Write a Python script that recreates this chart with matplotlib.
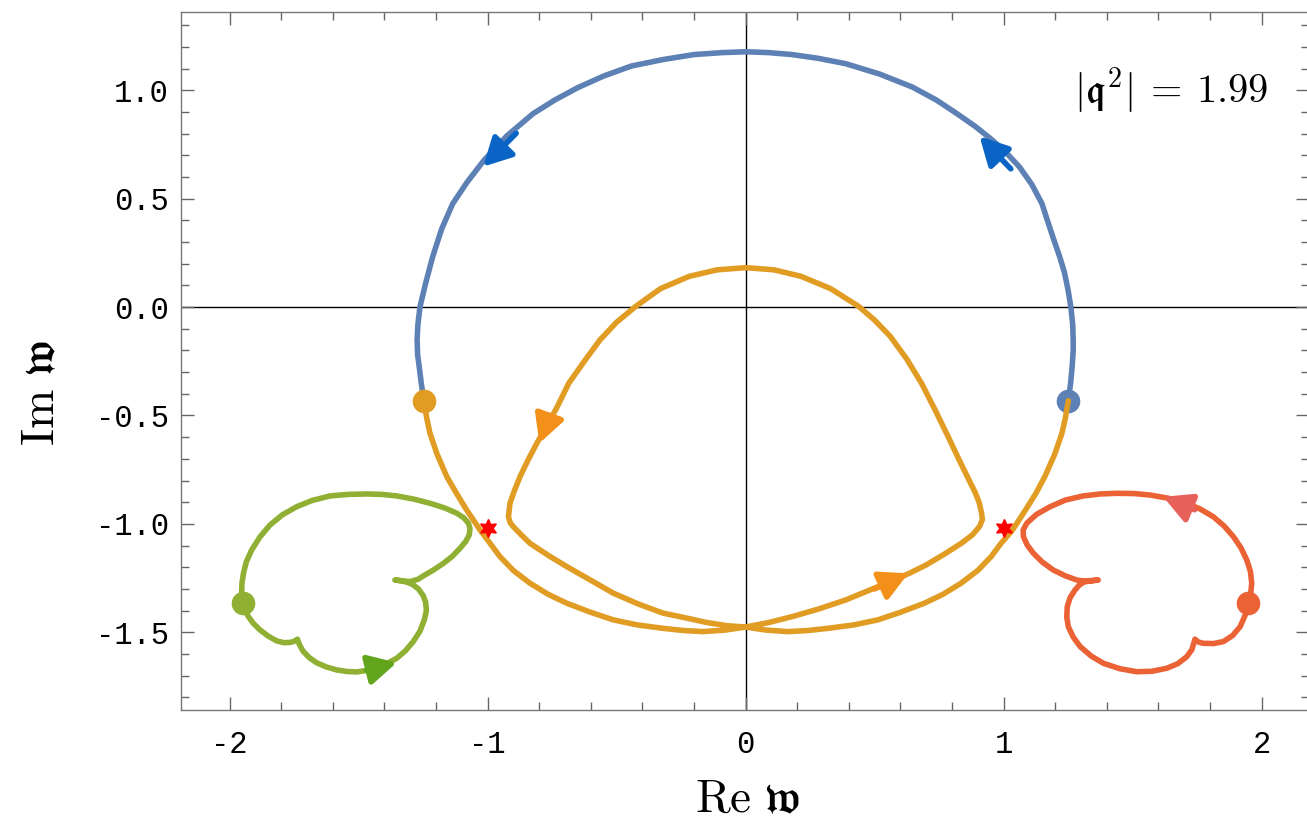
import numpy as np
import matplotlib
matplotlib.use('Agg')
import matplotlib.pyplot as plt

plt.rcParams['mathtext.fontset'] = 'cm'

# curves, Re w / Im w
blue_x = [1.251, 1.260, 1.266, 1.270, 1.270, 1.268, 1.261, 1.250, 1.236, 1.218, 1.195,
          1.170, 1.149, 1.110, 1.062, 1.012, 0.958, 0.892, 0.820, 0.740, 0.647, 0.520,
          0.388, 0.280, 0.180, 0.090, 0.0,
          -0.090, -0.200, -0.320, -0.443, -0.550, -0.651, -0.740, -0.824, -0.925,
          -1.014, -1.080, -1.135, -1.178, -1.213, -1.240, -1.262, -1.270, -1.273,
          -1.271, -1.265, -1.257, -1.247]
blue_y = [-0.432, -0.350, -0.274, -0.200, -0.151, -0.080, 0.0, 0.080, 0.160, 0.231, 0.310,
          0.400, 0.477, 0.565, 0.646, 0.710, 0.769, 0.832, 0.892, 0.955, 1.015, 1.075,
          1.123, 1.148, 1.165, 1.174, 1.178,
          1.174, 1.165, 1.142, 1.112, 1.066, 1.012, 0.955, 0.892, 0.790,
          0.677, 0.575, 0.477, 0.360, 0.231, 0.110, 0.0, -0.080, -0.151,
          -0.220, -0.274, -0.350, -0.432]

orange_x = [-1.247, -1.236, -1.223, -1.195, -1.158, -1.120, -1.081, -1.029, -0.990,
            -0.952, -0.900, -0.835, -0.765, -0.693, -0.600, -0.512, -0.420, -0.319,
            -0.240, -0.166, -0.080, 0.0,
            0.090, 0.180, 0.285, 0.388, 0.480, 0.578, 0.640, 0.699, 0.770, 0.837,
            0.880, 0.907, 0.918, 0.915, 0.905, 0.890, 0.872, 0.830, 0.785, 0.735,
            0.682, 0.625, 0.561, 0.500, 0.439, 0.330, 0.215, 0.110, 0.0,
            -0.110, -0.218, -0.330, -0.426, -0.500, -0.564, -0.625, -0.685, -0.732,
            -0.772, -0.809, -0.845, -0.874, -0.897, -0.913, -0.919, -0.912, -0.900,
            -0.870, -0.835, -0.765, -0.693, -0.600, -0.512, -0.415, -0.319, -0.254,
            -0.150, -0.070, 0.0,
            0.080, 0.166, 0.240, 0.319, 0.420, 0.512, 0.600, 0.693, 0.765, 0.835,
            0.900, 0.952, 0.990, 1.035, 1.085, 1.125, 1.160, 1.198, 1.226, 1.240, 1.251]
orange_y = [-0.432, -0.510, -0.583, -0.680, -0.782, -0.860, -0.936, -1.028, -1.090,
            -1.151, -1.215, -1.274, -1.325, -1.366, -1.408, -1.443, -1.466, -1.482,
            -1.492, -1.497, -1.490, -1.476,
            -1.455, -1.428, -1.392, -1.351, -1.306, -1.258, -1.225, -1.190, -1.140, -1.089,
            -1.050, -1.012, -0.980, -0.951, -0.900, -0.855, -0.812, -0.710, -0.597, -0.475,
            -0.351, -0.240, -0.135, -0.060, 0.003, 0.085, 0.142, 0.172, 0.182,
            0.172, 0.142, 0.085, 0.003, -0.070, -0.151, -0.250, -0.351, -0.465,
            -0.550, -0.628, -0.710, -0.782, -0.850, -0.905, -0.967, -0.995, -1.013,
            -1.050, -1.090, -1.145, -1.197, -1.260, -1.320, -1.370, -1.412, -1.428,
            -1.455, -1.470, -1.476,
            -1.490, -1.497, -1.492, -1.482, -1.466, -1.443, -1.408, -1.366, -1.325, -1.274,
            -1.215, -1.151, -1.090, -1.028, -0.936, -0.860, -0.782, -0.680, -0.583, -0.510, -0.432]

green_x = [-1.946, -1.938, -1.927, -1.907, -1.882, -1.850, -1.817, -1.790, -1.766, -1.750,
           -1.737, -1.728, -1.714, -1.690, -1.662, -1.625, -1.584, -1.545, -1.507, -1.468,
           -1.429, -1.390, -1.352, -1.318, -1.288, -1.262, -1.245, -1.237, -1.240, -1.250,
           -1.268, -1.290, -1.310, -1.335, -1.359, -1.330, -1.300, -1.270, -1.249, -1.210,
           -1.171, -1.137, -1.107, -1.085, -1.071, -1.068, -1.074, -1.092, -1.119, -1.165,
           -1.223, -1.285, -1.352, -1.410, -1.468, -1.540, -1.610, -1.680, -1.740, -1.795,
           -1.843, -1.882, -1.914, -1.935, -1.946, -1.952, -1.953, -1.946]
green_y = [-1.366, -1.400, -1.428, -1.460, -1.489, -1.518, -1.540, -1.548, -1.547, -1.542,
           -1.532, -1.560, -1.589, -1.618, -1.641, -1.660, -1.674, -1.681, -1.683, -1.676,
           -1.663, -1.644, -1.620, -1.585, -1.543, -1.495, -1.443, -1.400, -1.360, -1.330,
           -1.300, -1.280, -1.270, -1.262, -1.259, -1.263, -1.266, -1.256, -1.240, -1.213,
           -1.182, -1.150, -1.113, -1.082, -1.051, -1.022, -0.997, -0.972, -0.951, -0.927,
           -0.905, -0.886, -0.871, -0.864, -0.862, -0.864, -0.871, -0.892, -0.921, -0.958,
           -1.005, -1.060, -1.120, -1.175, -1.228, -1.275, -1.320, -1.366]

red_x = [1.949, 1.958, 1.962, 1.957, 1.943, 1.920, 1.891, 1.855, 1.813, 1.763, 1.710,
         1.640, 1.568, 1.505, 1.439, 1.375, 1.309, 1.240, 1.180, 1.128, 1.090, 1.076,
         1.077, 1.092, 1.116, 1.150, 1.193, 1.240, 1.284, 1.310, 1.335, 1.367, 1.335,
         1.312, 1.293, 1.277, 1.258, 1.247, 1.245, 1.251, 1.270, 1.297, 1.340, 1.387,
         1.450, 1.516, 1.575, 1.633, 1.675, 1.710, 1.730, 1.742, 1.755, 1.774, 1.815,
         1.852, 1.888, 1.917, 1.937, 1.949]
red_y = [-1.363, -1.320, -1.274, -1.220, -1.167, -1.110, -1.059, -1.010, -0.967, -0.932, -0.905,
         -0.882, -0.867, -0.860, -0.859, -0.862, -0.871, -0.890, -0.921, -0.956, -0.997, -1.028,
         -1.059, -1.098, -1.136, -1.176, -1.213, -1.240, -1.259, -1.263, -1.262, -1.259, -1.264,
         -1.268, -1.283, -1.305, -1.340, -1.382, -1.430, -1.474, -1.522, -1.566, -1.610, -1.643,
         -1.668, -1.682, -1.680, -1.666, -1.645, -1.613, -1.580, -1.532, -1.545, -1.551, -1.552,
         -1.543, -1.515, -1.474, -1.420, -1.363]

# start points (dots) and the two stars
dot_x = [1.251, -1.247, -1.946, 1.949]
dot_y = [-0.432, -0.432, -1.366, -1.363]
star_x = [-1.0, 1.0]
star_y = [-1.017, -1.017]

# arrows: tail -> tip
arrow_tail = [(1.028, 0.638), (-0.889, 0.802), (-0.760, -0.500), (0.500, -1.300),
              (-1.470, -1.675), (1.740, -0.935)]
arrow_tip = [(0.907, 0.788), (-1.017, 0.648), (-0.799, -0.628), (0.631, -1.228),
             (-1.352, -1.640), (1.619, -0.875)]

c_blue, c_orange, c_green, c_red = '#5E81B5', '#E19C24', '#8FB032', '#EB6235'
arrow_cols = ['#0A64C6', '#0A64C6', '#F39019', '#F39019', '#62A41C', '#E8605A']

fig = plt.figure(figsize=(13.07, 8.32), dpi=100)
ax = fig.add_axes([181.3/1307, 1 - 710.3/832, (1308.5 - 181.3)/1307, (710.3 - 12.3)/832])

ax.axhline(0, color='black', lw=1.0, zorder=1)
ax.axvline(0, color='black', lw=1.0, zorder=1)

kw = dict(lw=4.0, solid_capstyle='round', solid_joinstyle='round')
ax.plot(blue_x, blue_y, color=c_blue, zorder=2, **kw)
ax.plot(dot_x[0], dot_y[0], 'o', color=c_blue, ms=16, zorder=3)
ax.plot(orange_x, orange_y, color=c_orange, zorder=4, **kw)
ax.plot(dot_x[1], dot_y[1], 'o', color=c_orange, ms=16, zorder=4)
ax.plot(green_x, green_y, color=c_green, zorder=4, **kw)
ax.plot(dot_x[2], dot_y[2], 'o', color=c_green, ms=16, zorder=4)
ax.plot(red_x, red_y, color=c_red, zorder=4, **kw)
ax.plot(dot_x[3], dot_y[3], 'o', color=c_red, ms=16, zorder=4)

for (tx, ty), (hx, hy), col in zip(arrow_tail, arrow_tip, arrow_cols):
    ax.annotate('', xy=(hx, hy), xytext=(tx, ty), zorder=5,
                arrowprops=dict(arrowstyle='-|>,head_length=0.85,head_width=0.45',
                                mutation_scale=20, color=col, lw=4.0,
                                shrinkA=0, shrinkB=0))

ax.plot(star_x, star_y, linestyle='none', marker=(6, 1, 0), color='#FF0000',
        ms=13, mec='#FF0000', zorder=6)

ax.set_xlim(-2.187, 2.182)
ax.set_ylim(-1.860, 1.360)

xticks = [-2, -1, 0, 1, 2]
xtick_labels = ['-2', '-1', '0', '1', '2']
yticks = [-1.5, -1.0, -0.5, 0.0, 0.5, 1.0]
ytick_labels = ['-1.5', '-1.0', '-0.5', '0.0', '0.5', '1.0']
ax.set_xticks(xticks)
ax.set_xticklabels(xtick_labels, family='Liberation Mono', fontsize=22)
ax.set_yticks(yticks)
ax.set_yticklabels(ytick_labels, family='Liberation Mono', fontsize=22)
ax.set_xticks(np.arange(-2.0, 2.01, 0.2), minor=True)
ax.set_yticks(np.arange(-1.8, 1.31, 0.1), minor=True)
ax.tick_params(which='both', direction='in', top=True, right=True, color='#666666', width=1.0)
ax.tick_params(which='major', length=9.5)
ax.tick_params(which='minor', length=6)
ax.tick_params(axis='x', which='major', pad=14)
ax.tick_params(axis='y', which='major', pad=9)
for s in ax.spines.values():
    s.set_color('#777777')
    s.set_linewidth(1.0)

ax.text(2.025, 1.0, r'$|\mathfrak{q}^2|\:=\:1.99$', ha='right', va='center', fontsize=29)

fig.text(747/1307, 1 - 800/832, r'$\mathrm{Re}\ \mathfrak{w}$', ha='center', va='center', fontsize=34)
fig.text(42/1307, 1 - 393/832, r'$\mathrm{Im}\ \mathfrak{w}$', ha='center', va='center',
         fontsize=34, rotation=90)

fig.savefig('out.png', dpi=100)
